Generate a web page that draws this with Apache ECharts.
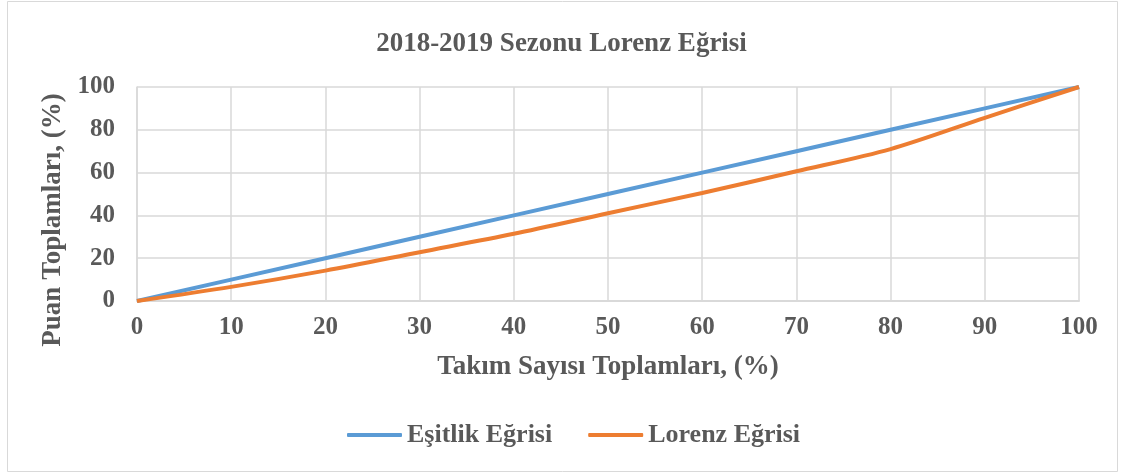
<!DOCTYPE html>
<html>
<head>
<meta charset="utf-8">
<script src="https://cdn.jsdelivr.net/npm/echarts@6/dist/echarts.min.js"></script>
<style>
  html, body { margin: 0; padding: 0; background: #fff; }
  #lorenz-chart { width: 1123px; height: 475px; }
</style>
</head>
<body>
<div id="lorenz-chart"></div>
<script>
// Takım sayısı toplamları (%) ve puan toplamları (%)
const xValues = [0, 10, 20, 30, 40, 50, 60, 70, 80, 90, 100]
const esitlikValues = [0, 10, 20, 30, 40, 50, 60, 70, 80, 90, 100]
const lorenzValues = [0, 6.6, 14.2, 22.8, 31.4, 41, 50.5, 60.6, 71, 85.6, 100]

const textColor = '#595959'
const fontFamily = '"Liberation Serif", "Times New Roman", serif'

const chart = echarts.init(document.getElementById('lorenz-chart'))

chart.setOption({
  backgroundColor: '#fff',
  animation: false,
  textStyle: { fontFamily },
  graphic: [{
    type: 'rect',
    shape: { x: 7.5, y: 1.5, width: 1110, height: 470 },
    style: { fill: 'none', stroke: '#d9d9d9', lineWidth: 1 },
    silent: true
  }],
  title: {
    text: '2018-2019 Sezonu Lorenz Eğrisi',
    left: 'center',
    top: 26,
    textStyle: { color: textColor, fontSize: 27, fontWeight: 'bold', fontFamily }
  },
  legend: {
    bottom: 22,
    left: 342,
    itemWidth: 55,
    itemHeight: 4,
    itemGap: 36,
    icon: 'roundRect',
    textStyle: { color: textColor, fontSize: 26, fontWeight: 'bold', fontFamily },
    data: ['Eşitlik Eğrisi', 'Lorenz Eğrisi']
  },
  grid: { left: 137, right: 44, top: 87, bottom: 174 },
  xAxis: {
    type: 'value',
    min: 0,
    max: 100,
    interval: 10,
    name: 'Takım Sayısı Toplamları, (%)',
    nameLocation: 'middle',
    nameGap: 53,
    nameTextStyle: { color: textColor, fontSize: 27, fontWeight: 'bold', fontFamily },
    axisLine: { show: true, lineStyle: { color: '#d9d9d9', width: 2 } },
    axisTick: { show: false },
    axisLabel: { color: textColor, fontSize: 25, fontWeight: 'bold', margin: 14, fontFamily },
    splitLine: { show: true, lineStyle: { color: '#d9d9d9', width: 1.5 } }
  },
  yAxis: {
    type: 'value',
    min: 0,
    max: 100,
    interval: 20,
    name: 'Puan Toplamları, (%)',
    nameLocation: 'middle',
    nameGap: 66,
    nameTextStyle: { color: textColor, fontSize: 27, fontWeight: 'bold', fontFamily, padding: [0, 52, 0, 0] },
    axisLine: { show: true, lineStyle: { color: '#d9d9d9', width: 1.5 } },
    axisTick: { show: false },
    axisLabel: { color: textColor, fontSize: 25, fontWeight: 'bold', margin: 22, fontFamily },
    splitLine: { show: true, lineStyle: { color: '#d9d9d9', width: 1.5 } }
  },
  series: [{
    name: 'Eşitlik Eğrisi',
    type: 'line',
    data: xValues.map((x, i) => [x, esitlikValues[i]]),
    symbol: 'none',
    lineStyle: { color: '#5b9bd5', width: 4 },
    itemStyle: { color: '#5b9bd5' }
  }, {
    name: 'Lorenz Eğrisi',
    type: 'line',
    data: xValues.map((x, i) => [x, lorenzValues[i]]),
    symbol: 'none',
    smooth: 0.3,
    lineStyle: { color: '#ed7d31', width: 4 },
    itemStyle: { color: '#ed7d31' }
  }]
})
</script>
</body>
</html>
